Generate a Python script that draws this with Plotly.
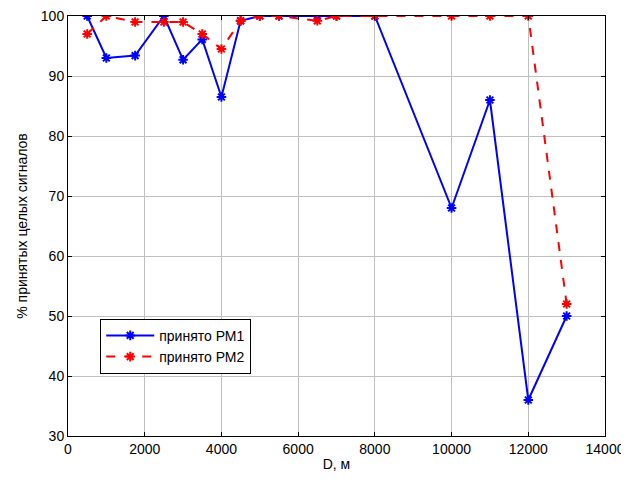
import plotly.graph_objects as go

d_pm1 = [500, 1000, 1750, 2500, 3000, 3500, 4000, 4500, 5000, 5500, 6500, 7000, 8000, 10000, 11000, 12000, 13000]
pct_pm1 = [100, 93, 93.4, 100, 92.7, 96.1, 86.5, 99.2, 100, 100, 100, 100, 100, 68, 86, 36, 50]
d_pm2 = [500, 1000, 1750, 2500, 3000, 3500, 4000, 4500, 5000, 5500, 6500, 7000, 8000, 10000, 11000, 12000, 13000]
pct_pm2 = [97, 100, 99, 99, 99, 97, 94.5, 99.2, 100, 100, 99.2, 100, 100, 100, 100, 100, 52]
x_ticks = [0, 2000, 4000, 6000, 8000, 10000, 12000, 14000]
y_ticks = [30, 40, 50, 60, 70, 80, 90, 100]

FONT = "Liberation Sans, Arial, sans-serif"

fig = go.Figure()
fig.add_trace(go.Scatter(
    x=d_pm1, y=pct_pm1, mode="lines+markers", name="принято РМ1",
    line=dict(color="#0000ff", width=2),
    marker=dict(symbol="asterisk-open", size=8, color="#0000ff",
                line=dict(color="#0000ff", width=2)),
))
fig.add_trace(go.Scatter(
    x=d_pm2, y=pct_pm2, mode="lines+markers", name="принято РМ2",
    line=dict(color="#ff0000", width=2, dash="dash"),
    marker=dict(symbol="asterisk-open", size=8, color="#ff0000",
                line=dict(color="#ff0000", width=2)),
))

axis_common = dict(
    showline=True, linecolor="black", linewidth=1, mirror="ticks",
    ticks="inside", ticklen=4, tickcolor="black",
    showgrid=True, gridcolor="#c0c0c0", gridwidth=1,
    zeroline=False, automargin=False, ticklabeloverflow="allow",
    tickfont=dict(family=FONT, size=14, color="black"),
)

fig.update_xaxes(range=[0, 14000], tickvals=x_ticks, ticktext=[str(v) for v in x_ticks],
                 title=dict(text="D, м", standoff=3,
                            font=dict(family=FONT, size=14, color="black")),
                 **axis_common)
fig.update_yaxes(range=[30, 100], tickvals=y_ticks, ticktext=[str(v) for v in y_ticks],
                 title=dict(text="% принятых целых сигналов", standoff=9,
                            font=dict(family=FONT, size=14, color="black")),
                 **axis_common)

# page body has an 8px default margin, so the figure is drawn 8px smaller
fig.update_layout(
    width=621, height=477,
    margin=dict(l=60, r=24, t=8, b=49),
    paper_bgcolor="white", plot_bgcolor="white",
    showlegend=True,
    legend=dict(
        x=0.06, y=0.279, xanchor="left", yanchor="top",
        bgcolor="white", bordercolor="black", borderwidth=1,
        font=dict(family=FONT, size=14, color="black"),
        tracegroupgap=0, itemwidth=48,
    ),
)

fig.write_html("out.html")
